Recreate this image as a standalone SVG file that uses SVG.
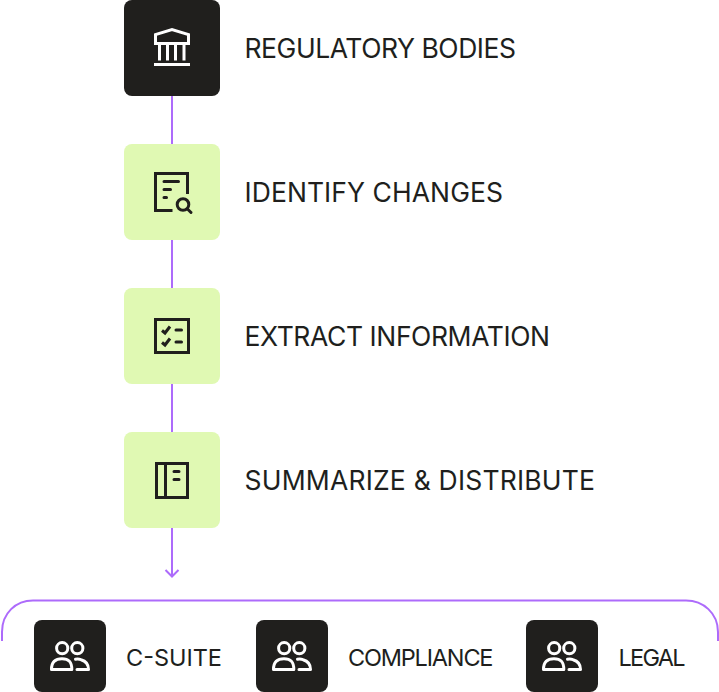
<svg xmlns="http://www.w3.org/2000/svg" width="719" height="692" viewBox="0 0 719 692">
<style>
.dark{fill:#201f1d}
.light{fill:#e0f9b3}
.conn{fill:none;stroke:#ad6bfb;stroke-width:2}
.iw{fill:none;stroke:#fff;stroke-width:3}
.iw2{fill:none;stroke:#fff;stroke-width:3;stroke-linecap:round;stroke-linejoin:round}
.ik{fill:none;stroke:#201f1d;stroke-width:3}
.ikr{fill:none;stroke:#201f1d;stroke-width:3;stroke-linecap:round}
.t{font-family:"Inter","Liberation Sans",sans-serif;fill:#201f1d;font-size:26.500px}
.s{font-family:"Inter","Liberation Sans",sans-serif;fill:#201f1d;font-size:23.500px}
</style>
<defs>
<g id="people">
<circle cx="-7.800" cy="-7.800" r="5.600" class="iw2"/>
<circle cx="7.300" cy="-7.800" r="5.600" class="iw2"/>
<path class="iw2" d="M-18.500 13.500C-18.500 6 -15 2.800 -8 2.800C-1 2.800 1.800 6 1.800 13.500Z"/>
<path class="iw2" d="M5.500 3.300C7 3 9 3 11 3.700C16 5 18.500 8.500 18.500 13.500H7"/>
</g>
</defs>
<g id="connectors">
<path class="conn" d="M172 96V144M172 240V288M172 384V432M172 528V576"/>
<path class="conn" d="M165.500 570L172 576.500L178.500 570"/>
<path class="conn" d="M2 641V632C2 613 16 600.500 33 600.500H686C703 600.500 718 613 718 632V641"/>
</g>
<g id="regulatory-bodies">
<rect x="124" y="0" width="96" height="96" rx="8" class="dark"/>
<path class="iw" d="M155.500 43.500V34.500L172 29.500L188.500 34.500V43.500Z"/>
<path class="iw" d="M159.500 44V60.500M167.500 44V60.500M175.500 44V60.500M184 44V60.500"/>
<path class="iw" d="M154 64.500H190"/>
<text class="t" x="244.500" y="57.500" textLength="271.500">REGULATORY BODIES</text>
</g>
<g id="identify-changes">
<rect x="124" y="144" width="96" height="96" rx="8" class="light"/>
<path class="ik" d="M172.500 210.500H155.500V173.500H187.500V194"/>
<path class="ikr" d="M164 181.500H178.500M164 189.500H170.500M164 197.500H166.500"/>
<circle cx="183" cy="204.500" r="5.800" class="ik"/>
<path class="ikr" d="M187.500 209L191 212.500"/>
<text class="t" x="244.500" y="201.500" textLength="258.500">IDENTIFY CHANGES</text>
</g>
<g id="extract-information">
<rect x="124" y="288" width="96" height="96" rx="8" class="light"/>
<rect x="155.500" y="319.500" width="33" height="33" class="ik"/>
<path class="ik" d="M162 330.500L165 333L170 326.500M162 342.500L165 345L170 338.500"/>
<path class="ikr" d="M176 330H181.500M176 342H181.500"/>
<text class="t" x="244.500" y="345.500" textLength="305.500">EXTRACT INFORMATION</text>
</g>
<g id="summarize-distribute">
<rect x="124" y="432" width="96" height="96" rx="8" class="light"/>
<rect x="156.500" y="463.500" width="31" height="34" class="ik"/>
<path class="ik" d="M165.500 463.500V497.500"/>
<path class="ikr" d="M174 471.500H179M174 479.500H179"/>
<text class="t" x="244.500" y="489.500" textLength="350.500">SUMMARIZE &amp; DISTRIBUTE</text>
</g>
<g id="c-suite">
<rect x="34" y="620" width="72" height="72" rx="8" class="dark"/>
<use href="#people" x="70" y="656"/>
<text class="s" x="126" y="665.500" textLength="96">C-SUITE</text>
</g>
<g id="compliance">
<rect x="256" y="620" width="72" height="72" rx="8" class="dark"/>
<use href="#people" x="292" y="656"/>
<text class="s" x="348" y="665.500" textLength="145.500">COMPLIANCE</text>
</g>
<g id="legal">
<rect x="526" y="620" width="72" height="72" rx="8" class="dark"/>
<use href="#people" x="562" y="656"/>
<text class="s" x="618.500" y="665.500" textLength="67">LEGAL</text>
</g>
</svg>
